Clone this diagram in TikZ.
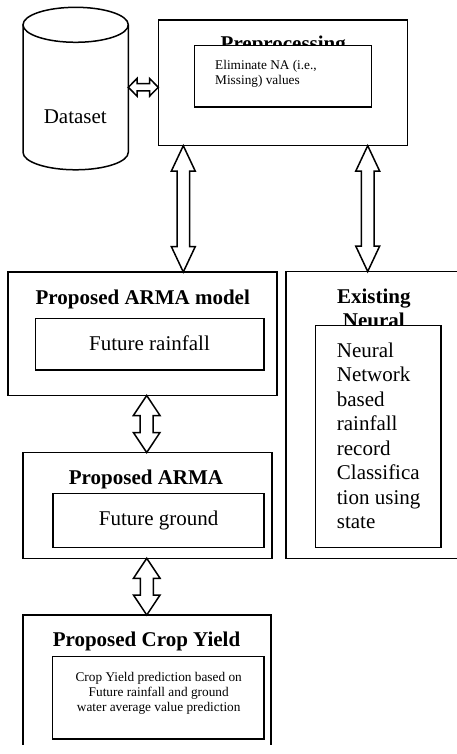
\documentclass[tikz,border=0pt]{standalone}
\usepackage{fontspec}
\setmainfont{Liberation Serif}
\usetikzlibrary{calc,fit}

% vertical two-headed block arrow: #1 top point, #2 bottom point,
% #3 head half-width, #4 shaft half-width, #5 head length
\newcommand\vbiarrow[5]{%
  \draw[blockarrow] let \p1=#1, \p2=#2 in
    (\x1,\y1) -- (\x1+#3,\y1-#5) -- (\x1+#4,\y1-#5) -- (\x1+#4,\y2+#5)
    -- (\x1+#3,\y2+#5) -- (\x1,\y2) -- (\x1-#3,\y2+#5) -- (\x1-#4,\y2+#5)
    -- (\x1-#4,\y1-#5) -- (\x1-#3,\y1-#5) -- cycle;}
% horizontal two-headed block arrow: #1 left point, #2 right point
\newcommand\hbiarrow[5]{%
  \draw[blockarrow] let \p1=#1, \p2=#2 in
    (\x1,\y1) -- (\x1+#5,\y1+#3) -- (\x1+#5,\y1+#4) -- (\x2-#5,\y1+#4)
    -- (\x2-#5,\y1+#3) -- (\x2,\y1) -- (\x2-#5,\y1-#3) -- (\x2-#5,\y1-#4)
    -- (\x1+#5,\y1-#4) -- (\x1+#5,\y1-#3) -- cycle;}

\tikzset{
  box/.style={draw, line width=1.6pt, fill=white, inner sep=0pt, outer sep=0pt},
  inbox/.style={draw, line width=1.5pt, fill=white, inner sep=0pt, outer sep=0pt},
  ttl/.style={font=\bfseries\fontsize{21}{24.5}\selectfont, inner sep=0pt},
  big/.style={font=\fontsize{21}{24.5}\selectfont, inner sep=0pt},
  small/.style={font=\fontsize{13.3}{15}\selectfont, inner sep=0pt},
  blockarrow/.style={draw, line width=1.5pt, fill=white, line join=miter},
  cyl/.style={draw, line width=1.5pt}
}

\begin{document}
\begin{tikzpicture}[x=1pt, y=-1pt]
\clip (0,0) rectangle (457,754);
\fill[white] (0,0) rectangle (457,754);

% dataset cylinder
\draw[cyl, fill=white] (23,24.8) -- (23,152.3) arc[start angle=180, end angle=360, x radius=52.65pt, y radius=17.5pt] -- (128.3,24.8);
\draw[cyl] (75.65,24.8) ellipse[x radius=52.65pt, y radius=17.5pt];
\node[big, anchor=base] (ds) at (75.3,123.3) {Dataset};
\coordinate (dsr) at (128.3,87.3);

% preprocessing stage
\node[box, fit={(158.3,20) (407.3,145.7)}] (pre) {};
\node[ttl, anchor=base] (pretitle) at (283.3,50.7) {Preprocessing};
\node[inbox, fit={(194.3,45.7) (371.7,107)}] (prein) {};
\node[small, anchor=north west, align=left] (pretext) at (215,60) {Eliminate NA (i.e.,\\Missing) values};

% ARMA rainfall model
\node[box, fit={(8,272) (277,395.5)}] (arma1) {};
\node[ttl, anchor=base] (arma1title) at (142.8,304) {Proposed ARMA model};
\node[inbox, fit={(35.7,318.3) (264,370)}] (arma1in) {};
\node[big, anchor=base] (arma1text) at (149.5,350) {Future rainfall};

% existing neural network approach
\node[box, fit={(286,271.5) (470,558.3)}] (exist) {};
\node[ttl, anchor=north, align=center] (existtitle) at (373.8,288.7) {Existing\\Neural};
\node[inbox, fit={(315.7,325.7) (441,547.3)}] (existin) {};
\node[big, anchor=north west, align=left] (existtext) at (336.7,342.7)
  {Neural\\Network\\based\\rainfall\\record\\Classifica\\tion using\\state};

% ARMA ground water model
\node[box, fit={(23,452.5) (272,558.3)}] (arma2) {};
\node[ttl, anchor=base] (arma2title) at (146,484) {Proposed ARMA};
\node[inbox, fit={(53,493.7) (264,547.3)}] (arma2in) {};
\node[big, anchor=base] (arma2text) at (158.7,525) {Future ground};

% crop yield stage (open at the lower edge)
\begin{scope}
\clip (0,0) rectangle (457,744);
\node[box, fit={(23,615) (271,780)}] (crop) {};
\end{scope}
\node[ttl, anchor=base] (croptitle) at (146.5,646.7) {Proposed Crop Yield};
\node[inbox, fit={(52.7,656.7) (264,739)}] (cropin) {};
\node[small, anchor=north, align=center] (croptext) at (158.7,671.9)
  {Crop Yield prediction based on\\Future rainfall and ground\\water average value prediction};

% connectors
\hbiarrow{(dsr)}{(pre.west |- dsr)}{8.8pt}{3.7pt}{8.7pt}
\vbiarrow{($(pre.south west)!0.1004!(pre.south east)$)}{(arma1.north)}{12pt}{6.3pt}{25.5pt}
\vbiarrow{($(pre.south west)!0.841!(pre.south east)$)}{(exist.north)}{12pt}{6.3pt}{25.5pt}
\vbiarrow{($(arma1.south west)!0.5156!(arma1.south east)$)}{(arma2.north)}{13.3pt}{6.5pt}{20pt}
\vbiarrow{($(arma2.south west)!0.497!(arma2.south east)$)}{(crop.north)}{13.3pt}{6.5pt}{20pt}
\end{tikzpicture}
\end{document}
